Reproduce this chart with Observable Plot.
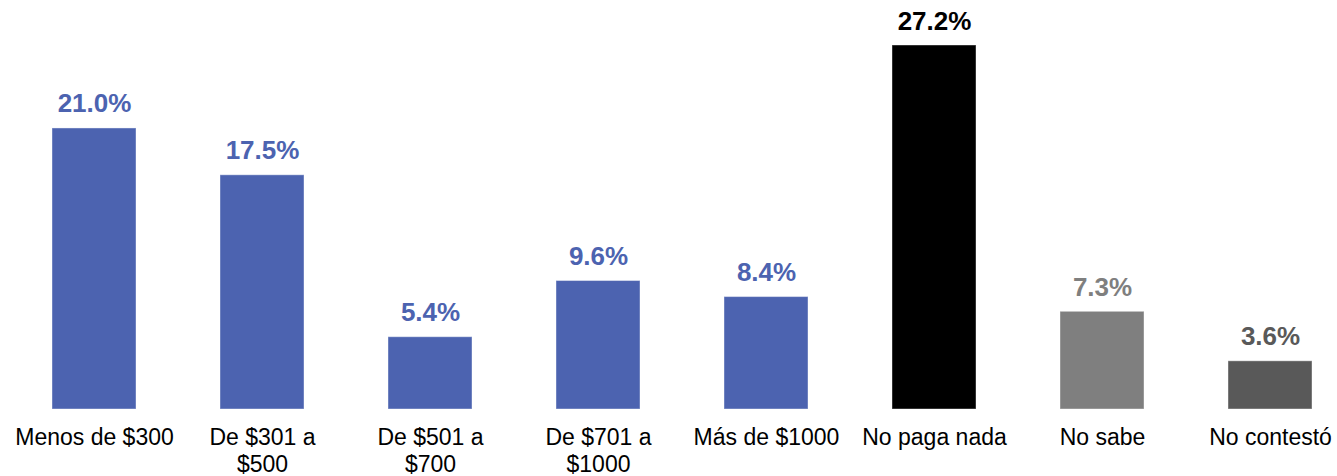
<!DOCTYPE html>
<html><head><meta charset="utf-8">
<script src="https://cdn.jsdelivr.net/npm/d3@7"></script>
<script src="https://cdn.jsdelivr.net/npm/@observablehq/plot@0.6"></script>
<style>body{margin:0;background:#fff;font-family:"Liberation Sans",Arial,sans-serif}</style>
</head><body><div id="chart"></div>
<script>
const categories = ["Menos de $300", "De $301 a\n$500", "De $501 a\n$700", "De $701 a\n$1000", "Más de $1000", "No paga nada", "No sabe", "No contestó"];
const values = [21.0, 17.5, 5.4, 9.6, 8.4, 27.2, 7.3, 3.6];
const colors = ["#4C63B0", "#4C63B0", "#4C63B0", "#4C63B0", "#4C63B0", "#000000", "#7F7F7F", "#595959"];

const data = categories.map((c, i) => ({cat: c, value: values[i], color: colors[i]}));

const chart = Plot.plot({
  width: 1337,
  height: 476,
  marginTop: 0, marginBottom: 0, marginLeft: 0, marginRight: 0,
  style: {fontFamily: "Liberation Sans, Arial, sans-serif", background: "#fff"},
  x: {domain: categories, range: [9.5, 1354.5], paddingInner: 0.5, paddingOuter: 0.25, axis: null},
  y: {domain: [0, 27.2], range: [409, 45], axis: null},
  marks: [
    Plot.barY(data, {x: "cat", y: "value", fill: "color", stroke: "#ffffff", strokeOpacity: 0.4, strokeWidth: 1}),
    Plot.text(data, {x: "cat", y: "value", text: d => d.value.toFixed(1) + "%", fill: "color",
      fontSize: 26, fontWeight: "bold", lineAnchor: "bottom", dy: -16}),
    Plot.text(data, {x: "cat", y: 0, text: "cat", fill: "#000", fontSize: 23,
      lineAnchor: "top", dy: 16, lineHeight: 1.17})
  ]
});
document.getElementById("chart").appendChild(chart);
</script></body></html>
